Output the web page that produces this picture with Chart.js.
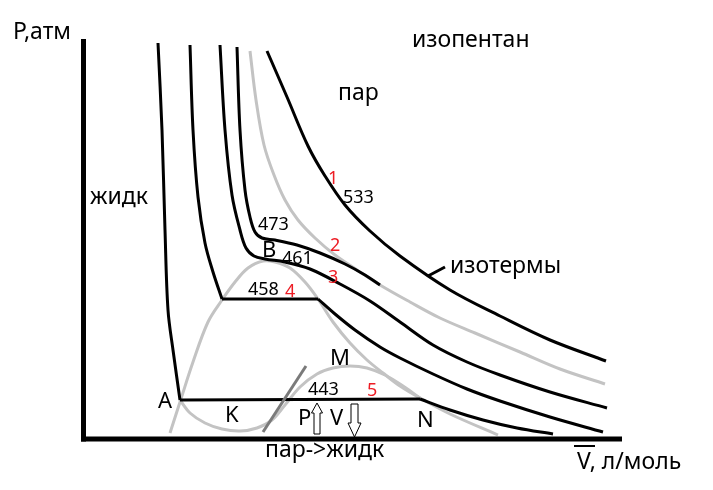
<!DOCTYPE html>
<html><head><meta charset="utf-8">
<script src="https://cdn.jsdelivr.net/npm/chart.js@4/dist/chart.umd.min.js"></script>
<style>html,body{margin:0;padding:0;background:#fff;overflow:hidden}#wrap{width:713px;height:490px}</style>
</head><body><div id="wrap"><canvas id="c" width="713" height="490"></canvas></div>
<script>
// ---- data (V, P in arbitrary schematic units; origin at the axes corner) ----
const iso443Liquid = [[75,396],[79,309],[82,209],[85,129],[90,89],[97,39]];
const iso443Plateau = [[97,39],[337,40]];
const iso443Vapor = [[337,40],[367,29],[400,19],[434,11],[470,5]];
const iso458Liquid = [[107,394],[110,309],[115,242],[122,196],[130,167],[139,140]];
const iso458Plateau = [[139,140],[235,140]];
const iso458Vapor = [[235,140],[252,125],[272,109],[297,92],[317,81],[350,65],[384,50],[417,38],[467,22],[520,7]];
const iso461 = [[137,394],[142,309],[149,244],[157,209],[163,191],[171,183],[182,180],[202,177],[227,170],[257,155],[287,138],[317,117],[350,94],[384,77],[417,64],[467,47],[524,31]];
const iso473 = [[154,392],[157,309],[162,249],[167,222],[172,207],[179,201],[192,199],[214,194],[237,186],[262,175],[282,164],[297,154]];
const iso533 = [[184,388],[204,342],[225,293],[242,263],[262,234],[287,208],[317,183],[367,149],[417,123],[467,99],[523,78]];
const curve2 = [[167,388],[173,339],[181,294],[191,264],[202,239],[215,219],[232,201],[252,184],[274,169],[297,154],[327,137],[357,121],[392,106],[437,87],[477,70],[522,55]];
const binodal = [[87,6],[97,37],[110,77],[125,117],[139,139],[152,157],[165,171],[180,178],[192,177],[207,171],[222,157],[235,140],[250,117],[267,96],[284,79],[300,66],[317,53],[337,41],[367,25],[415,4]];
const vdwLoop443 = [[97,39],[107,26],[122,16],[139,10],[157,8],[174,11],[189,19],[202,34],[217,52],[234,65],[250,71],[267,73],[284,71],[302,64],[320,53],[337,41]];
const spinodalMark = [[180,7],[223,73]];

const wordLabels = ['P,атм','изопентан','пар','жидк','изотермы','пар->жидк','V, л/моль'];
const wordAt = [[-70,400],[329,392],[255,339],[7,235],[367,166],[182,-18],[494,-30]];
const tempLabels = ['533','473','461','458','443'];
const tempAt = [[260,236],[175,209],[199,175],[165,144],[225,44]];
const curveNumbers = ['1','2','3','4','5'];
const curveNumAt = [[245,255],[247,188],[245,156],[202,142],[284,43]];
const pointLetters = ['B','A','K','M','N','P','V'];
const pointLetterAt = [[179,182],[75,31],[142,17],[247,74],[334,12],[215,14],[247,14]];
const pointerLine = [[345,163],[362,172]];
const vBar = [[491,-7],[512,-7]];
const upArrow = {v:234, from:5, to:36};
const downArrow = {v:271.5, from:35, to:2};

const BLACK='#000000', GRAY='#c3c3c3', DARK='#7a7a7a', RED='#ed1c24';
const FONT='"Noto Sans", "Open Sans", sans-serif';

function ds(data,color,w,tension){return {data, borderColor:color, borderWidth:w, showLine:true, pointRadius:0, tension:tension, fill:false, clip:false, borderCapStyle:'butt', borderJoinStyle:'round'};}

const datasets = [
  ds(spinodalMark,DARK,3,0),
  ds(iso443Liquid,BLACK,3,0.35), ds(iso443Plateau,BLACK,3,0), ds(iso443Vapor,BLACK,3,0.35),
  ds(iso458Liquid,BLACK,3,0.35), ds(iso458Plateau,BLACK,3,0), ds(iso458Vapor,BLACK,3,0.35),
  ds(iso461,BLACK,3,0.35), ds(iso473,BLACK,3,0.35), ds(iso533,BLACK,3,0.35),
  ds(pointerLine,BLACK,3,0),
  ds(curve2,GRAY,3,0.35), ds(binodal,GRAY,3,0.35), ds(vdwLoop443,GRAY,3,0.35)
];

const overlay = {
  id:'overlay',
  afterDatasetsDraw(chart){
    const {ctx, scales:{x,y}} = chart;
    const px=v=>x.getPixelForValue(v), py=p=>y.getPixelForValue(p);
    ctx.save();
    // axes
    ctx.strokeStyle=BLACK; ctx.lineWidth=5; ctx.lineCap='butt';
    ctx.beginPath(); ctx.moveTo(px(0)+0.5,py(400)); ctx.lineTo(px(0)+0.5,py(0)+2.5); ctx.stroke();
    ctx.beginPath(); ctx.moveTo(px(0)-2,py(0)); ctx.lineTo(px(539),py(0)); ctx.stroke();
    // bar over V
    ctx.lineWidth=2;
    ctx.beginPath(); ctx.moveTo(px(vBar[0][0]),py(vBar[0][1])); ctx.lineTo(px(vBar[1][0]),py(vBar[1][1])); ctx.stroke();
    // arrows
    function arrow(a,shaftHalf,headHalf,headLen){
      const cx=px(a.v), y0=py(a.from), y1=py(a.to);
      const dir = y1<y0 ? -1 : 1;
      const hb = y1 - dir*headLen;
      ctx.beginPath();
      ctx.moveTo(cx-shaftHalf,y0); ctx.lineTo(cx-shaftHalf,hb); ctx.lineTo(cx-headHalf,hb);
      ctx.lineTo(cx,y1); ctx.lineTo(cx+headHalf,hb); ctx.lineTo(cx+shaftHalf,hb); ctx.lineTo(cx+shaftHalf,y0);
      ctx.closePath();
      ctx.fillStyle='#fff'; ctx.fill(); ctx.lineWidth=1; ctx.strokeStyle=BLACK; ctx.stroke();
    }
    arrow(upArrow,3,5.5,10);
    arrow(downArrow,3.5,6.5,14);
    // text
    ctx.textBaseline='alphabetic'; ctx.textAlign='left';
    function txt(list,at,size,color){
      ctx.font=size+'px '+FONT; ctx.fillStyle=color;
      list.forEach((t,i)=>ctx.fillText(t,px(at[i][0]),py(at[i][1])));
    }
    txt(wordLabels,wordAt,23,BLACK);
    txt(tempLabels,tempAt,18,BLACK);
    txt(curveNumbers,curveNumAt,18,RED);
    txt(pointLetters,pointLetterAt,22,BLACK);
    ctx.restore();
  }
};

new Chart(document.getElementById('c'),{
  type:'scatter',
  data:{datasets},
  options:{
    responsive:false, animation:false, devicePixelRatio:1,
    layout:{padding:{left:83,top:39,right:91,bottom:51}},
    scales:{
      x:{type:'linear',min:0,max:539,display:false},
      y:{type:'linear',min:0,max:400,display:false}
    },
    plugins:{legend:{display:false},tooltip:{enabled:false}}
  },
  plugins:[overlay]
});
</script></body></html>
